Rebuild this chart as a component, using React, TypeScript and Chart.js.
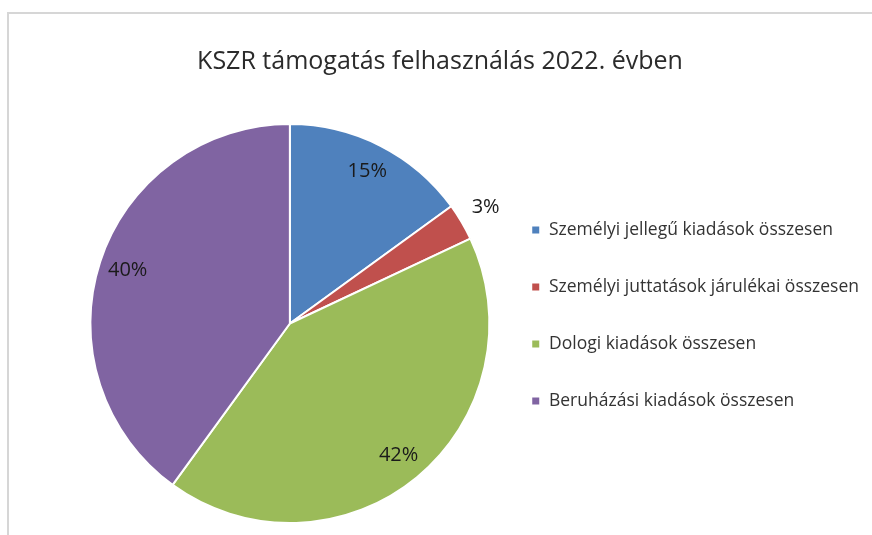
import React, { useEffect, useRef } from 'react';
import { Chart, registerables } from 'chart.js';

Chart.register(...registerables);

const TITLE = 'KSZR támogatás felhasználás 2022. évben';
const CATEGORIES = [
  'Személyi jellegű kiadások összesen',
  'Személyi juttatások járulékai összesen',
  'Dologi kiadások összesen',
  'Beruházási kiadások összesen',
];
const VALUES = [15, 3, 42, 40];
const COLORS = ['#4F81BD', '#C0504D', '#9BBB59', '#8064A2'];

const FONT = "'Open Sans', 'DejaVu Sans', sans-serif";

const pieLabels = {
  id: 'pieLabels',
  afterDatasetsDraw(chart: any) {
    const ctx = chart.ctx;
    const meta = chart.getDatasetMeta(0);
    const data = chart.data.datasets[0].data as number[];
    const total = data.reduce((a, b) => a + b, 0);
    ctx.save();
    ctx.font = `20px ${FONT}`;
    ctx.fillStyle = '#1a1a1a';
    ctx.textAlign = 'center';
    ctx.textBaseline = 'middle';
    meta.data.forEach((arc: any, i: number) => {
      const { x, y, startAngle, endAngle, outerRadius } = arc.getProps(
        ['x', 'y', 'startAngle', 'endAngle', 'outerRadius'],
        true
      );
      const mid = (startAngle + endAngle) / 2;
      const pct = Math.round((data[i] / total) * 100);
      const r = pct < 5 ? outerRadius * 1.14 : outerRadius * 0.855;
      ctx.fillText(pct + '%', x + Math.cos(mid) * r, y + Math.sin(mid) * r);
    });
    ctx.restore();
  },
};

const boxAdjust = {
  id: 'boxAdjust',
  afterLayout(chart: any) {
    const t = chart.titleBlock;
    if (t) {
      t.left = 8;
      t.right = 872;
      t.width = 864;
    }
    const l = chart.legend;
    if (l) {
      l.top -= 8;
      l.bottom -= 8;
    }
  },
};

export default function App() {
  const ref = useRef<HTMLCanvasElement>(null);
  useEffect(() => {
    if (!ref.current) return;
    const chart = new Chart(ref.current, {
      type: 'pie',
      data: {
        labels: CATEGORIES,
        datasets: [
          {
            data: VALUES,
            backgroundColor: COLORS,
            borderColor: '#ffffff',
            borderWidth: 2,
          },
        ],
      },
      options: {
        responsive: false,
        animation: false,
        devicePixelRatio: 1,
        layout: { padding: { left: 88, right: 3, top: 0, bottom: 11 } },
        plugins: {
          title: {
            display: true,
            text: TITLE,
            color: '#2b2b2b',
            font: { family: FONT, size: 25, weight: 'normal', lineHeight: 1.2 },
            padding: { top: 47, bottom: 46 },
          },
          legend: {
            position: 'right',
            fullSize: false,
            align: 'center',
            labels: {
              boxWidth: 9,
              boxHeight: 9,
              padding: 39.5,
              color: '#333333',
              font: { family: FONT, size: 17.5 },
            },
          },
          tooltip: { enabled: false },
        },
      },
      plugins: [pieLabels, boxAdjust],
    });
    return () => chart.destroy();
  }, []);

  return (
    <div style={{ position: 'absolute', left: 0, top: 0, width: 872, height: 535, background: '#fff' }}>
      <div
        style={{
          position: 'absolute',
          left: 7,
          top: 12,
          width: 865,
          height: 523,
          borderTop: '2px solid #d6d6d6',
          borderLeft: '2px solid #d6d6d6',
          boxSizing: 'border-box',
        }}
      />
      <canvas ref={ref} width={872} height={535} style={{ position: 'absolute', left: 0, top: 0 }} />
    </div>
  );
}
